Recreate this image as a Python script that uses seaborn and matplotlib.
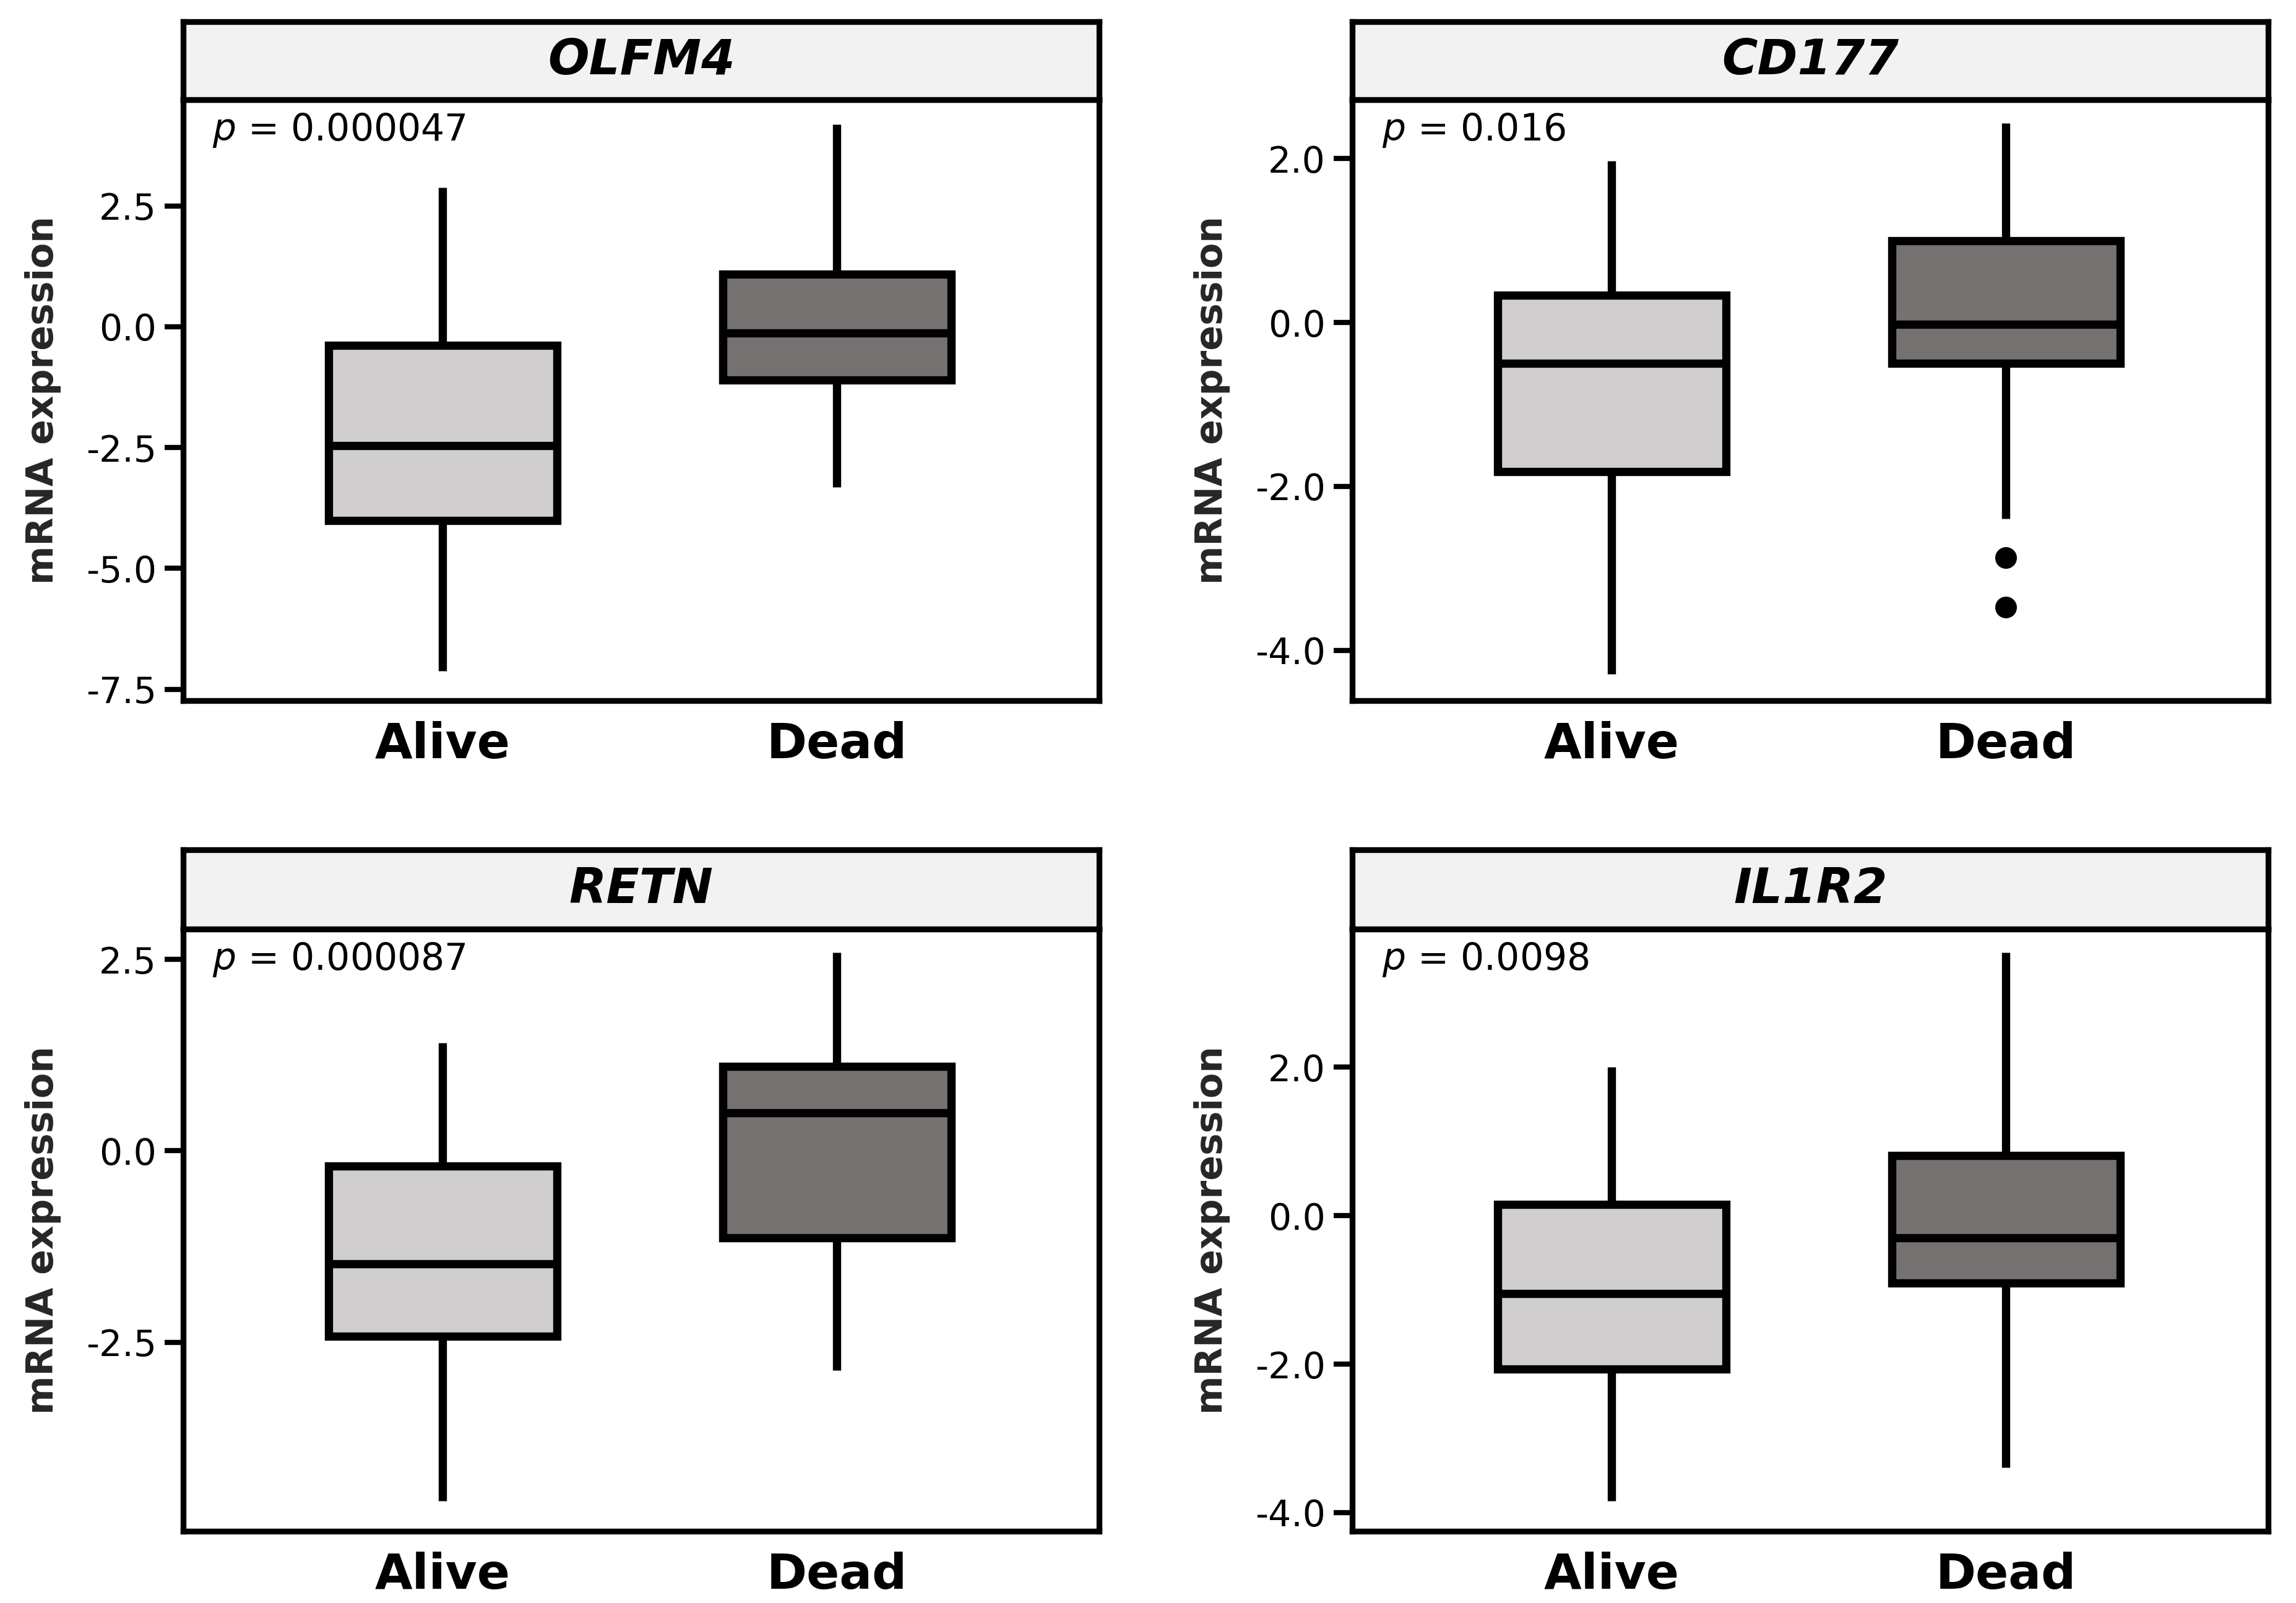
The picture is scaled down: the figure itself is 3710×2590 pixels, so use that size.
import numpy as np
import pandas as pd
import matplotlib
matplotlib.use("Agg")
import matplotlib.pyplot as plt
from matplotlib.ticker import FormatStrFormatter
import seaborn as sns

sns.set_theme(style="ticks")
plt.rcParams["font.family"] = ["DejaVu Sans"]
plt.rcParams["axes.unicode_minus"] = False

# values
genes = ["OLFM4", "CD177", "RETN", "IL1R2"]
p_labels = ["0.000047", "0.016", "0.000087", "0.0098"]
groups = ["Alive", "Dead"]
# [whisker low, q1, median, q3, whisker high]
alive_box = [[-7.12, -4.01, -2.46, -0.38, 2.88],
             [-4.29, -1.82, -0.50, 0.33, 1.97],
             [-4.57, -2.42, -1.48, -0.20, 1.41],
             [-3.84, -2.07, -1.05, 0.15, 2.00]]
dead_box = [[-3.32, -1.10, -0.13, 1.09, 4.19],
            [-2.39, -0.50, -0.02, 1.00, 2.43],
            [-2.87, -1.14, 0.50, 1.10, 2.59],
            [-3.39, -0.91, -0.30, 0.81, 3.54]]
alive_outliers = [[], [], [], []]
dead_outliers = [[], [-2.87, -3.47], [], []]
y_limits = [(-7.73, 4.70), (-4.61, 2.72), (-4.97, 2.90), (-4.25, 3.86)]
y_ticks = [[-7.5, -5.0, -2.5, 0.0, 2.5],
           [-4.0, -2.0, 0.0, 2.0],
           [-2.5, 0.0, 2.5],
           [-4.0, -2.0, 0.0, 2.0]]

colors = ["#d0cece", "#767171"]


def expand(box, outliers):
    # repeat the summary values so the quartiles come out exactly
    lo, q1, med, q3, hi = box
    return list(outliers) + [lo] + [q1] * 3 + [med] + [q3] * 3 + [hi] * (1 + len(outliers))


fig = plt.figure(figsize=(3710 / 240, 2590 / 240), dpi=240)

x_left = [0.0798, 0.589]
ax_w = 0.3989
ax_y = [0.5631, 0.0448]
ax_h = [0.3748, 0.3757]
strip_h = [0.0484, 0.0494]
lw_frame = 2.8

for i, gene in enumerate(genes):
    row, col = i // 2, i % 2
    ax = fig.add_axes([x_left[col], ax_y[row], ax_w, ax_h[row]])

    a_vals = expand(alive_box[i], alive_outliers[i])
    d_vals = expand(dead_box[i], dead_outliers[i])
    df = pd.DataFrame({
        "status": ["Alive"] * len(a_vals) + ["Dead"] * len(d_vals),
        "value": a_vals + d_vals,
    })
    has_out = len(alive_outliers[i]) + len(dead_outliers[i]) > 0
    whis = 1.5 if has_out else (0, 100)

    sns.boxplot(data=df, x="status", y="value", hue="status", order=groups,
                hue_order=groups, palette=colors, saturation=1, width=0.58,
                whis=whis, linewidth=4, linecolor="black", fliersize=9.5,
                showcaps=False, legend=False, ax=ax,
                flierprops=dict(marker="o", markerfacecolor="black",
                                markeredgecolor="black", markersize=9.5))

    ax.set_xlim(-0.658, 1.665)
    ax.set_ylim(*y_limits[i])
    ax.set_yticks(y_ticks[i])
    ax.yaxis.set_major_formatter(FormatStrFormatter("%.1f"))
    ax.set_xlabel("")
    ax.set_ylabel("mRNA expression", fontsize=18, fontweight="bold")
    ax.yaxis.set_label_coords(-0.133, 0.5)
    ax.tick_params(axis="y", length=9, width=2.5, labelsize=17.5, pad=4,
                   color="black", labelcolor="black")
    ax.tick_params(axis="x", length=0, labelsize=23.5, pad=10, labelcolor="black")
    for lbl in ax.get_xticklabels():
        lbl.set_fontweight("bold")
    for sp in ax.spines.values():
        sp.set_visible(True)
        sp.set_linewidth(lw_frame)
        sp.set_color("black")

    ax.text(0.032, 0.949, "$p$ = " + p_labels[i], transform=ax.transAxes,
            ha="left", va="center", fontsize=18, color="black")

    # facet strip with the gene name
    sax = fig.add_axes([x_left[col], ax_y[row] + ax_h[row], ax_w, strip_h[row]])
    sax.set_facecolor("#f2f2f2")
    sax.set_xticks([])
    sax.set_yticks([])
    for sp in sax.spines.values():
        sp.set_linewidth(lw_frame)
        sp.set_color("black")
    sax.text(0.5, 0.5, gene, transform=sax.transAxes, ha="center", va="center",
             fontsize=23.5, fontweight="bold", style="italic", color="black")

fig.savefig("out.png", dpi=240, facecolor="white")
